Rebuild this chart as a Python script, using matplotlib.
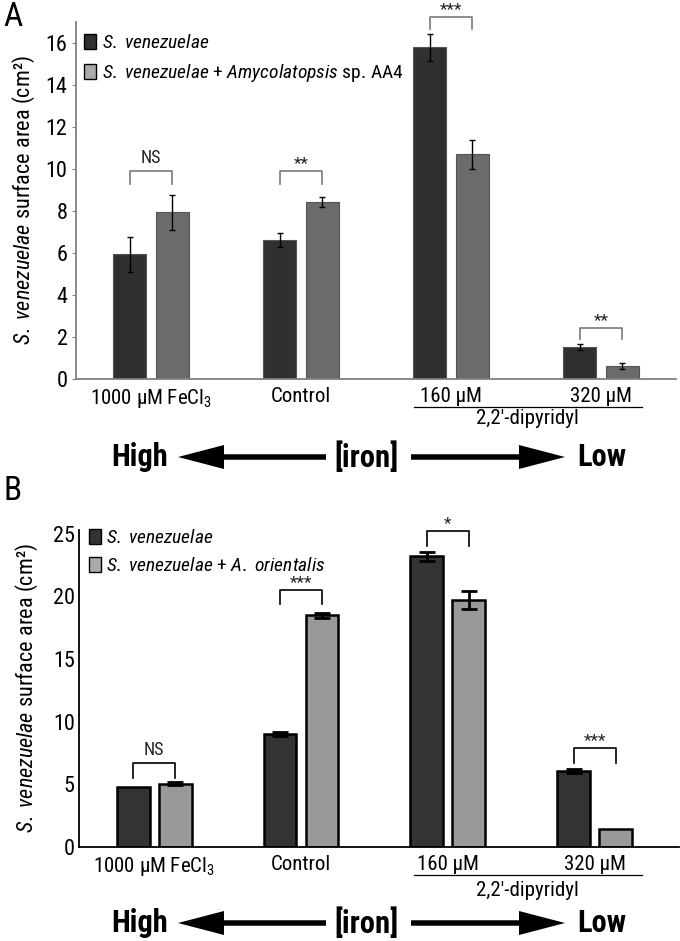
import matplotlib
matplotlib.use("Agg")
import matplotlib.pyplot as plt
from matplotlib import font_manager
from matplotlib.patches import Patch, FancyArrow
from matplotlib.lines import Line2D
import numpy as np

_names = {f.name for f in font_manager.fontManager.ttflist}
FONT = 'Liberation Sans'
for cand in ['Liberation Sans Narrow', 'Roboto Condensed', 'Arial Narrow', 'Liberation Sans']:
    if cand in _names:
        FONT = cand
        break
NARROW = FONT != 'Liberation Sans'

plt.rcParams['font.family'] = [FONT, 'Liberation Sans', 'DejaVu Sans']
plt.rcParams['mathtext.fontset'] = 'custom'
plt.rcParams['mathtext.rm'] = FONT
plt.rcParams['mathtext.it'] = FONT + ':italic'
plt.rcParams['mathtext.bf'] = FONT + ':bold'

if NARROW:
    FS = dict(tick=16, cat=15, leg=14, ylab=16, arrow=22, sig=12.5, ns=13, letter=24)
else:
    FS = dict(tick=15, cat=13, leg=12, ylab=14, arrow=18, sig=11, ns=12, letter=22)

# ---------------- data ----------------
categories = ['1000 µM FeCl$_3$', 'Control', '160 µM', '320 µM']

A_sv = [5.93, 6.63, 15.8, 1.51]
A_sv_err = [0.83, 0.33, 0.65, 0.15]
A_amy = [7.94, 8.42, 10.7, 0.63]
A_amy_err = [0.83, 0.24, 0.70, 0.13]
A_sig = ['NS', '**', '***', '**']
A_sig_top = [9.9, 9.9, 17.25, 2.42]
A_sig_leg = [9.3, 9.3, 16.65, 1.9]

B_sv = [4.76, 9.02, 23.2, 6.05]
B_sv_err = [0.0, 0.15, 0.37, 0.17]
B_ao = [5.03, 18.5, 19.7, 1.46]
B_ao_err = [0.12, 0.2, 0.73, 0.0]
B_sig = ['NS', '***', '*', '***']
B_sig_top = [6.7, 20.5, 25.2, 7.9]
B_sig_leg = [5.5, 19.4, 24.0, 6.67]

W, H = 680, 941
fig = plt.figure(figsize=(W / 100, H / 100), dpi=100)


def fx(px):
    return px / W


def fy(py):
    return 1 - py / H


x = np.arange(len(categories))
off = 0.143
bw = 0.223


def panel(rect, sv, sv_err, other, other_err, sig, sig_top, sig_leg, ylim, yticks,
          dark, gray, edge, axis_col, lw_edge, err_lw, capsize, br_col, tick_len,
          legend_labels, legend_gray, legend_anchor, letter, letter_pos, ylabel_x,
          under_y, dipy_y, xlim):
    ax = fig.add_axes(rect)
    ax.bar(x - off, sv, bw, color=dark, edgecolor=edge, linewidth=lw_edge, zorder=2)
    ax.bar(x + off, other, bw, color=gray, edgecolor=edge, linewidth=lw_edge, zorder=2)
    for xs, vals, errs in ((x - off, sv, sv_err), (x + off, other, other_err)):
        for xi, v, e in zip(xs, vals, errs):
            if e > 0:
                ax.errorbar(xi, v, yerr=e, fmt='none', ecolor='black', elinewidth=err_lw,
                            capsize=capsize, capthick=err_lw, zorder=3)
    for i, (s, t, l) in enumerate(zip(sig, sig_top, sig_leg)):
        ax.plot([x[i] - off, x[i] - off, x[i] + off, x[i] + off], [l, t, t, l],
                color=br_col, lw=1.2, zorder=3, clip_on=False)
        ax.annotate(s, xy=(x[i], t), xytext=(0, 3 if s == 'NS' else 0),
                    textcoords='offset points', ha='center', va='bottom',
                    fontsize=FS['ns'] if s == 'NS' else FS['sig'], color='#222222',
                    annotation_clip=False)
    ax.set_xlim(*xlim)
    ax.set_ylim(*ylim)
    ax.set_yticks(yticks)
    ax.set_xticks([])
    for sp in ('top', 'right'):
        ax.spines[sp].set_visible(False)
    for sp in ('left', 'bottom'):
        ax.spines[sp].set_color(axis_col)
        ax.spines[sp].set_linewidth(1.3)
    ax.tick_params(axis='y', labelsize=FS['tick'], length=tick_len, color=axis_col, pad=3)
    # category labels
    for i, c in enumerate(categories):
        ax.annotate(c, xy=(x[i], 0), xycoords=('data', 'axes fraction'),
                    xytext=(0, -6), textcoords='offset points',
                    ha='center', va='top', fontsize=FS['cat'])
    # dipyridyl group line
    fig.add_artist(Line2D([fx(414), fx(642)], [fy(under_y), fy(under_y)], color='black', lw=0.9))
    fig.text(fx(527), fy(dipy_y), "2,2\u2032-dipyridyl", ha='center', va='center',
             fontsize=FS['cat'])
    # legend
    handles = [Patch(facecolor=dark, edgecolor='black', linewidth=1.0),
               Patch(facecolor=legend_gray, edgecolor='black', linewidth=1.0)]
    ax.legend(handles, legend_labels, loc='upper left', bbox_to_anchor=legend_anchor,
              bbox_transform=fig.transFigure, frameon=False, fontsize=FS['leg'],
              handlelength=0.6, handleheight=0.8, handletextpad=0.3,
              labelspacing=0.5, borderpad=0, borderaxespad=0)
    fig.text(letter_pos[0], letter_pos[1], letter, fontsize=FS['letter'], ha='left',
             va='center')
    yc = rect[1] + rect[3] / 2
    fig.text(ylabel_x, yc, r'$\it{S.\ venezuelae}$ surface area (cm²)', rotation=90,
             ha='center', va='center', fontsize=FS['ylab'])
    return ax


def iron_arrows(py):
    y = fy(py)
    for px, s in ((140, 'High'), (367, '[iron]'), (602, 'Low')):
        fig.text(fx(px), y, s, fontsize=FS['arrow'], fontweight='bold', ha='center',
                 va='center')
    sw = 5.5 / H
    hw = 24 / H
    hl = 46 / W
    fig.add_artist(FancyArrow(fx(326), y, fx(178) - fx(326), 0, width=sw, head_width=hw,
                              head_length=hl, length_includes_head=True,
                              transform=fig.transFigure, color='black', lw=0))
    fig.add_artist(FancyArrow(fx(411), y, fx(565) - fx(411), 0, width=sw, head_width=hw,
                              head_length=hl, length_includes_head=True,
                              transform=fig.transFigure, color='black', lw=0))


# Panel A
rectA = [fx(76), fy(379), fx(676) - fx(76), fy(22) - fy(379)]
panel(rectA, A_sv, A_sv_err, A_amy, A_amy_err, A_sig, A_sig_top, A_sig_leg,
      (0, 17), np.arange(0, 17, 2), '#303030', '#6b6b6b', '#555555', '#808080', 0.8,
      1.0, 2.5, '#7a7a7a', 3,
      [r'$\it{S.\ venezuelae}$', r'$\it{S.\ venezuelae}$ + $\it{Amycolatopsis}$ sp. AA4'],
      '#aaaaaa', (fx(84), fy(34)), 'A', (fx(3), fy(17)), fx(24), 407, 419,
      (-0.5, 3.5))
iron_arrows(457)

# Panel B
rectB = [fx(79), fy(847), fx(679) - fx(79), fy(530) - fy(847)]
panel(rectB, B_sv, B_sv_err, B_ao, B_ao_err, B_sig, B_sig_top, B_sig_leg,
      (0, 25.3), np.arange(0, 26, 5), '#333333', '#999999', 'black', 'black', 1.8,
      2.0, 6, 'black', 0,
      [r'$\it{S.\ venezuelae}$', r'$\it{S.\ venezuelae}$ + $\it{A.\ orientalis}$'],
      '#aaaaaa', (fx(89), fy(529)), 'B', (fx(3), fy(491)), fx(27), 875, 890,
      (-0.512, 3.575))
iron_arrows(923)

fig.savefig('out.png', dpi=100)
